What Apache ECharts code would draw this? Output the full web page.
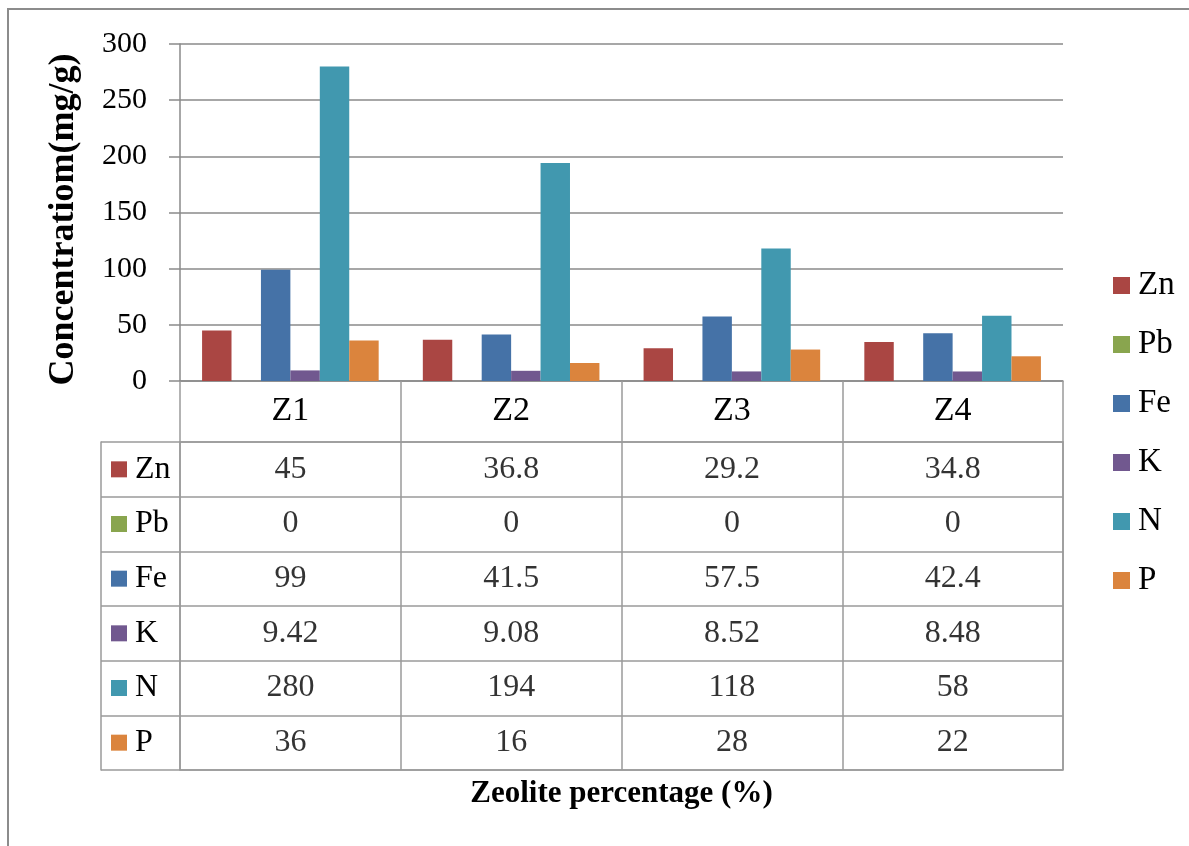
<!DOCTYPE html>
<html>
<head>
<meta charset="utf-8">
<script src="https://cdn.jsdelivr.net/npm/echarts@6/dist/echarts.min.js"></script>
<style>
  html, body { margin: 0; padding: 0; background: #fff; }
  #chart { width: 1189px; height: 846px; }
</style>
</head>
<body>
<div id="chart"></div>
<script>
// Zeolite treatments (columns)
const categories = ['Z1', 'Z2', 'Z3', 'Z4'];

// Element names, in legend / table order
const elements = ['Zn', 'Pb', 'Fe', 'K', 'N', 'P'];

// Concentration per treatment, mg/g
const zn = [45, 36.8, 29.2, 34.8];
const pb = [0, 0, 0, 0];
const fe = [99, 41.5, 57.5, 42.4];
const k  = [9.42, 9.08, 8.52, 8.48];
const n  = [280, 194, 118, 58];
const p  = [36, 16, 28, 22];

// Value axis ticks
const yTicks = [0, 50, 100, 150, 200, 250, 300];

const seriesValues = [zn, pb, fe, k, n, p];
const colors = ['#AA4643', '#89A54E', '#4572A7', '#71588F', '#4198AF', '#DB843D'];

const FONT = 'Liberation Serif, Times New Roman, serif';
const GRID_LINE = '#8a8a8a';
const TABLE_LINE = '#9a9a9a';

// Rich styles for the row headers of the data table (colour key + name)
const rowRich = { t: { fontSize: 32, fontFamily: FONT, color: '#000', padding: [0, 0, 0, 8] } };
colors.forEach((c, i) => {
  rowRich['c' + i] = { backgroundColor: c, width: 16, height: 16 };
});

// Cell values of the data table: [column, row, value]
const tableCells = [];
seriesValues.forEach((vals, r) => {
  vals.forEach((v, c) => tableCells.push([c, r, v]));
});

const chart = echarts.init(document.getElementById('chart'), null, { renderer: 'canvas' });

const barSeries = elements.map((name, i) => ({
  name: name,
  type: 'bar',
  xAxisIndex: 0,
  yAxisIndex: 0,
  data: seriesValues[i],
  itemStyle: { color: colors[i] },
  barGap: 0,
  barCategoryGap: '20%',
  animation: false
}));

chart.setOption({
  animation: false,
  textStyle: { fontFamily: FONT, color: '#000' },
  graphic: [{
    type: 'rect',
    shape: { x: 8, y: 9, width: 1300, height: 1000 },
    style: { fill: 'none', stroke: '#8c8c8c', lineWidth: 2 },
    silent: true,
    z: -10
  }],
  legend: {
    orient: 'vertical',
    left: 1108,
    top: 264,
    itemWidth: 17,
    itemHeight: 17,
    itemGap: 26,
    icon: 'rect',
    data: elements,
    textStyle: { fontSize: 33, fontFamily: FONT, color: '#000', lineHeight: 32, padding: [0, 0, 0, 3] }
  },
  grid: [
    { left: 180, right: 126, top: 44, bottom: 465, containLabel: false },
    { left: 180, right: 126, top: 442, bottom: 76, containLabel: false,
      show: true, borderColor: TABLE_LINE, borderWidth: 1.5, backgroundColor: 'transparent' }
  ],
  xAxis: [
    {
      type: 'category',
      gridIndex: 0,
      data: categories,
      boundaryGap: true,
      axisLine: { show: true, lineStyle: { color: GRID_LINE, width: 1.5 } },
      axisTick: { show: true, length: 61, interval: 0, lineStyle: { color: TABLE_LINE, width: 1.5 } },
      axisLabel: { fontSize: 34, fontFamily: FONT, color: '#000', margin: 13 },
      splitLine: { show: false }
    },
    {
      type: 'category',
      gridIndex: 1,
      data: categories,
      boundaryGap: true,
      axisLine: { show: false },
      axisTick: { show: false },
      axisLabel: { show: false },
      splitLine: { show: true, interval: 0, lineStyle: { color: TABLE_LINE, width: 1.5 } },
      name: 'Zeolite percentage (%)',
      nameLocation: 'middle',
      nameGap: 8,
      nameTextStyle: { fontSize: 31, fontWeight: 'bold', fontFamily: FONT, color: '#000' }
    }
  ],
  yAxis: [
    {
      type: 'value',
      gridIndex: 0,
      min: 0,
      max: 300,
      interval: 50,
      axisLine: { show: true, lineStyle: { color: GRID_LINE, width: 1.5 } },
      axisTick: { show: true, inside: false, length: 11, lineStyle: { color: GRID_LINE, width: 1.5 } },
      axisLabel: {
        fontSize: 30, fontFamily: FONT, color: '#000', margin: 33,
        formatter: v => (yTicks.indexOf(v) >= 0 ? String(v) : '')
      },
      splitLine: { show: true, lineStyle: { color: GRID_LINE, width: 1.5 } },
      name: 'Concentratiom(mg/g)',
      nameLocation: 'middle',
      nameGap: 98,
      nameRotate: 90,
      nameTextStyle: { fontSize: 36, fontWeight: 'bold', fontFamily: FONT, color: '#000', padding: [0, 14, 0, 0] }
    },
    {
      type: 'category',
      gridIndex: 1,
      data: elements,
      inverse: true,
      boundaryGap: true,
      axisLine: { show: false },
      axisTick: { show: true, length: 79, interval: 0, lineStyle: { color: TABLE_LINE, width: 1.5 } },
      axisLabel: {
        align: 'left',
        margin: 69,
        interval: 0,
        rich: rowRich,
        formatter: (val, idx) => '{c' + idx + '|}{t|' + val + '}'
      },
      splitLine: { show: true, interval: 0, lineStyle: { color: TABLE_LINE, width: 1.5 } }
    },
    {
      // left edge of the row-header column
      type: 'value',
      gridIndex: 1,
      position: 'left',
      offset: 79,
      min: 0,
      max: 1,
      axisLine: { show: true, lineStyle: { color: TABLE_LINE, width: 1.5 } },
      axisTick: { show: false },
      axisLabel: { show: false },
      splitLine: { show: false }
    }
  ],
  series: barSeries.concat([{
    name: 'table',
    type: 'scatter',
    xAxisIndex: 1,
    yAxisIndex: 1,
    data: tableCells,
    symbolSize: 1,
    itemStyle: { color: 'rgba(0,0,0,0)' },
    silent: true,
    label: {
      show: true,
      position: 'inside',
      fontSize: 32,
      fontFamily: FONT,
      color: '#000',
      formatter: prm => String(prm.value[2])
    }
  }])
});
</script>
</body>
</html>
